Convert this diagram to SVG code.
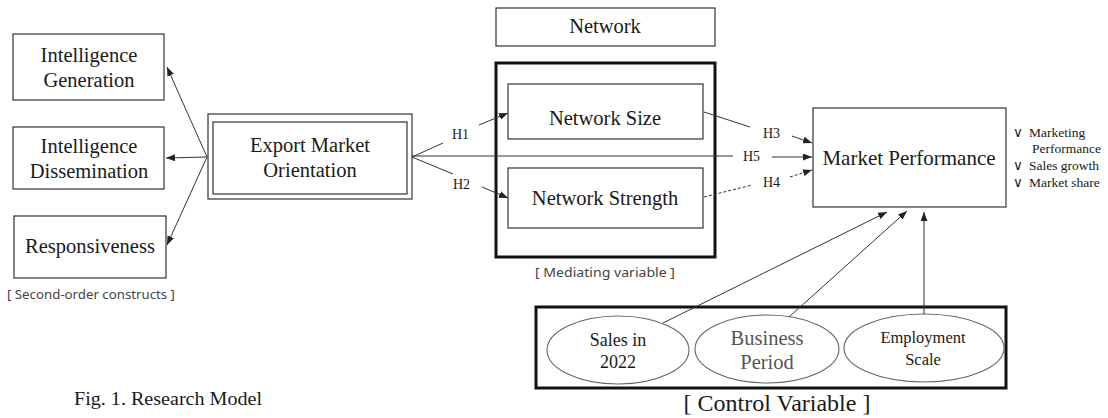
<svg xmlns="http://www.w3.org/2000/svg" width="1108" height="418" viewBox="0 0 1108 418">
<defs>
<marker id="ah" markerUnits="userSpaceOnUse" markerWidth="9" markerHeight="7" refX="9" refY="3.5" orient="auto">
<path d="M0,0 L9,3.5 L0,7 z" fill="#222"/>
</marker>
<style>
.box{fill:#fff;stroke:#333;stroke-width:1.2}
.thick{fill:none;stroke:#111;stroke-width:3}
.ell{fill:#fff;stroke:#666;stroke-width:1.1}
.t{font-family:"Liberation Serif","Times New Roman",serif;fill:#1a1a1a;text-anchor:middle}
.s{font-family:"Noto Sans","Liberation Sans",sans-serif;fill:#444;font-size:12.5px}
.h{font-family:"Liberation Serif","Times New Roman",serif;fill:#1a1a1a;font-size:14px}
.ln{stroke:#333;stroke-width:1;fill:none}
.ar{stroke:#333;stroke-width:1;fill:none;marker-end:url(#ah)}
.b{font-family:"Liberation Serif","DejaVu Serif",serif;fill:#1a1a1a;font-size:13.5px}
</style>
</defs>
<rect width="1108" height="418" fill="#fff"/>

<g id="intelligence-generation">
<rect class="box" x="13" y="34" width="151" height="66"/>
<text class="t" x="89" y="62" font-size="20.5">Intelligence</text>
<text class="t" x="89" y="87" font-size="20.5">Generation</text>
</g>
<g id="intelligence-dissemination">
<rect class="box" x="13" y="127" width="151" height="62"/>
<text class="t" x="89" y="153" font-size="20.5">Intelligence</text>
<text class="t" x="89" y="178" font-size="20.5">Dissemination</text>
</g>
<g id="responsiveness">
<rect class="box" x="14" y="216" width="152" height="62"/>
<text class="t" x="90" y="253" font-size="20.5">Responsiveness</text>
</g>
<text class="s" x="7" y="299" textLength="168" lengthAdjust="spacingAndGlyphs">[ Second-order constructs ]</text>

<g id="export-market-orientation">
<rect class="box" x="208" y="114" width="204" height="85"/>
<rect class="box" x="213" y="122" width="194" height="72"/>
<text class="t" x="310" y="152" font-size="20.5">Export Market</text>
<text class="t" x="310" y="177" font-size="20.5">Orientation</text>
</g>

<g id="network">
<rect class="box" x="496" y="8" width="219" height="38"/>
<text class="t" x="605" y="33" font-size="20.5">Network</text>
</g>
<g id="mediating">
<rect class="thick" x="496" y="63" width="219" height="194"/>
<text class="s" x="535" y="277" textLength="140" lengthAdjust="spacingAndGlyphs">[ Mediating variable ]</text>
</g>
<g id="network-size">
<rect class="box" x="508" y="84" width="195" height="55"/>
<text class="t" x="605" y="125" font-size="20.5">Network Size</text>
</g>
<g id="network-strength">
<rect class="box" x="508" y="168" width="195" height="60"/>
<text class="t" x="605" y="205" font-size="20.5">Network Strength</text>
</g>

<g id="market-performance">
<rect class="box" x="813" y="108" width="193" height="99"/>
<text class="t" x="909" y="165" font-size="21">Market Performance</text>
<text class="b" x="1013" y="137">∨ <tspan x="1029">Marketing</tspan></text>
<text class="b" x="1032" y="153">Performance</text>
<text class="b" x="1013" y="170">∨ <tspan x="1029">Sales growth</tspan></text>
<text class="b" x="1013" y="187">∨ <tspan x="1029">Market share</tspan></text>
</g>

<g id="control-variable">
<rect class="thick" x="536" y="307" width="470" height="81"/>
<text class="t" x="777" y="411" font-size="24">[ Control Variable ]</text>
</g>
<g id="sales-2022">
<ellipse class="ell" cx="618" cy="350" rx="71" ry="34"/>
<text class="t" x="618" y="346" font-size="18">Sales in</text>
<text class="t" x="618" y="368" font-size="18">2022</text>
</g>
<g id="business-period">
<ellipse class="ell" cx="767" cy="349" rx="72" ry="34"/>
<text class="t" x="767" y="345" font-size="20.5" style="fill:#555">Business</text>
<text class="t" x="767" y="369" font-size="20.5" style="fill:#555">Period</text>
</g>
<g id="employment-scale">
<ellipse class="ell" cx="924" cy="348" rx="80" ry="34"/>
<text class="t" x="923" y="343" font-size="16.5">Employment</text>
<text class="t" x="923" y="365" font-size="16.5">Scale</text>
</g>

<text class="t" x="74" y="405" font-size="18" style="text-anchor:start" textLength="188" lengthAdjust="spacingAndGlyphs">Fig. 1. Research Model</text>

<g id="connectors">
<line class="ar" x1="207" y1="157" x2="167" y2="67"/>
<line class="ar" x1="207" y1="157" x2="166" y2="158"/>
<line class="ar" x1="207" y1="157" x2="167" y2="245"/>

<line class="ln" x1="412" y1="157" x2="443" y2="143"/>
<line class="ar" x1="479" y1="125" x2="508" y2="113"/>
<line class="ln" x1="412" y1="157" x2="453" y2="174"/>
<line class="ar" x1="482" y1="187" x2="508" y2="198"/>
<line class="ln" x1="412" y1="156" x2="733" y2="156"/>
<line class="ar" x1="772" y1="157" x2="812" y2="157"/>
<line class="ln" x1="704" y1="112" x2="750" y2="127"/>
<line class="ar" x1="792" y1="136" x2="812" y2="143"/>
<line class="ln" x1="704" y1="197" x2="752" y2="185" stroke-dasharray="3,2"/>
<line class="ar" x1="790" y1="177" x2="812" y2="170" stroke-dasharray="3,2"/>

<line class="ar" x1="663" y1="323" x2="887" y2="212"/>
<line class="ar" x1="789" y1="317" x2="907" y2="211"/>
<line class="ar" x1="924" y1="314" x2="924" y2="212"/>

<text class="h" x="452" y="139">H1</text>
<text class="h" x="453" y="189">H2</text>
<text class="h" x="763" y="138">H3</text>
<text class="h" x="743" y="161">H5</text>
<text class="h" x="763" y="187">H4</text>
</g>
</svg>
